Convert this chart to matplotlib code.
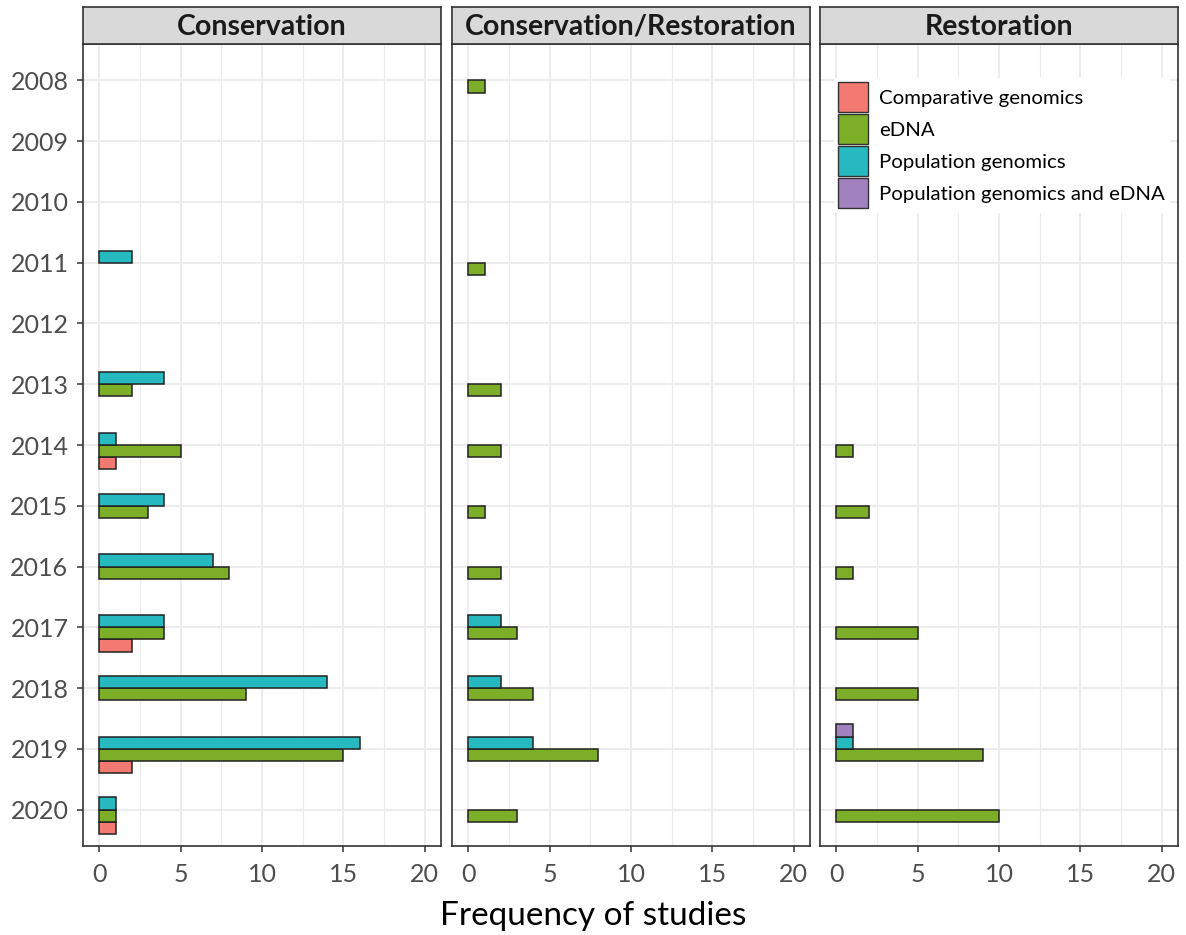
import matplotlib.pyplot as plt
from matplotlib.patches import Patch
from matplotlib.ticker import MultipleLocator

plt.rcParams['font.family'] = ['Lato', 'DejaVu Sans']

years = list(range(2008, 2021))
panels = ["Conservation", "Conservation/Restoration", "Restoration"]
methods = ["Comparative genomics", "eDNA", "Population genomics",
           "Population genomics and eDNA"]
colors = ["#F27A72", "#7CAE27", "#27B9C0", "#A282BE"]

# counts per panel, per method, per year (2008..2020); 0 = no bar
cons_comp = [0, 0, 0, 0, 0, 0, 1, 0, 0, 2, 0, 2, 1]
cons_edna = [0, 0, 0, 0, 0, 2, 5, 3, 8, 4, 9, 15, 1]
cons_pop = [0, 0, 0, 2, 0, 4, 1, 4, 7, 4, 14, 16, 1]
cons_both = [0] * 13

cr_comp = [0] * 13
cr_edna = [1, 0, 0, 1, 0, 2, 2, 1, 2, 3, 4, 8, 3]
cr_pop = [0, 0, 0, 0, 0, 0, 0, 0, 0, 2, 2, 4, 0]
cr_both = [0] * 13

rest_comp = [0] * 13
rest_edna = [0, 0, 0, 0, 0, 0, 1, 2, 1, 5, 5, 9, 10]
rest_pop = [0, 0, 0, 0, 0, 0, 0, 0, 0, 0, 0, 1, 0]
rest_both = [0, 0, 0, 0, 0, 0, 0, 0, 0, 0, 0, 1, 0]

data = [
    [cons_comp, cons_edna, cons_pop, cons_both],
    [cr_comp, cr_edna, cr_pop, cr_both],
    [rest_comp, rest_edna, rest_pop, rest_both],
]

W, H = 1186, 935
fig = plt.figure(figsize=(W / 100, H / 100), dpi=100)

lefts = [83, 452, 820]
pw = 358
top, bottom = 44, 846
strip_top = 7
# dodge slot for each method (y axis is inverted, so negative = up)
offsets = [0.3, 0.1, -0.1, -0.3]
bar_h = 0.2
dark = "#333333"

for p, (name, series) in enumerate(zip(panels, data)):
    ax = fig.add_axes([lefts[p] / W, (H - bottom) / H, pw / W, (bottom - top) / H])
    for m, vals in enumerate(series):
        ys = [y + offsets[m] for y, v in zip(years, vals) if v > 0]
        xs = [v for v in vals if v > 0]
        ax.barh(ys, xs, height=bar_h, left=0, color=colors[m],
                edgecolor="#222222", linewidth=1.1, zorder=3)
    ax.set_xlim(-1, 21)
    ax.set_ylim(years[-1] + 0.6, years[0] - 0.6)
    ax.set_yticks(years)
    ax.xaxis.set_major_locator(MultipleLocator(5))
    ax.xaxis.set_minor_locator(MultipleLocator(2.5))
    ax.grid(which="major", color="#EBEBEB", linewidth=1.3, zorder=0)
    ax.grid(which="minor", axis="x", color="#EBEBEB", linewidth=0.8, zorder=0)
    ax.set_axisbelow(True)
    for s in ax.spines.values():
        s.set_color(dark)
        s.set_linewidth(1.2)
    ax.tick_params(which="major", length=4, width=1.1, color=dark,
                   labelsize=18, labelcolor="#4D4D4D")
    ax.tick_params(axis="x", pad=8)
    ax.tick_params(axis="y", pad=6.5)
    ax.tick_params(which="minor", length=0)
    if p == 0:
        ax.set_yticklabels([str(y) for y in years])
    else:
        ax.tick_params(axis="y", length=0, labelleft=False)

    # facet strip
    sax = fig.add_axes([lefts[p] / W, (H - top) / H, pw / W, (top - strip_top) / H])
    sax.set_facecolor("#D9D9D9")
    sax.set_xticks([])
    sax.set_yticks([])
    for s in sax.spines.values():
        s.set_color(dark)
        s.set_linewidth(1.2)
    sax.text(0.5, 0.47, name, ha="center", va="center", fontsize=20.5,
             fontweight="bold", color="#1A1A1A", transform=sax.transAxes)

    if p == 2:
        handles = [Patch(facecolor=c, edgecolor="#333333", linewidth=1.0)
                   for c in colors]
        leg = ax.legend(handles, methods, loc="upper left",
                        bbox_to_anchor=(834 / W, (H - 78) / H),
                        bbox_transform=fig.transFigure, fontsize=14.7,
                        frameon=True, facecolor="white", edgecolor="white",
                        framealpha=1, borderpad=0.2, handlelength=1.47,
                        handleheight=1.885, labelspacing=0.1, handletextpad=0.55,
                        borderaxespad=0)
        leg.set_zorder(5)

fig.text(593 / W, 1 - 925 / H, "Frequency of studies",
         ha="center", va="baseline", fontsize=24, color="black")

fig.savefig("out.png", dpi=100)
